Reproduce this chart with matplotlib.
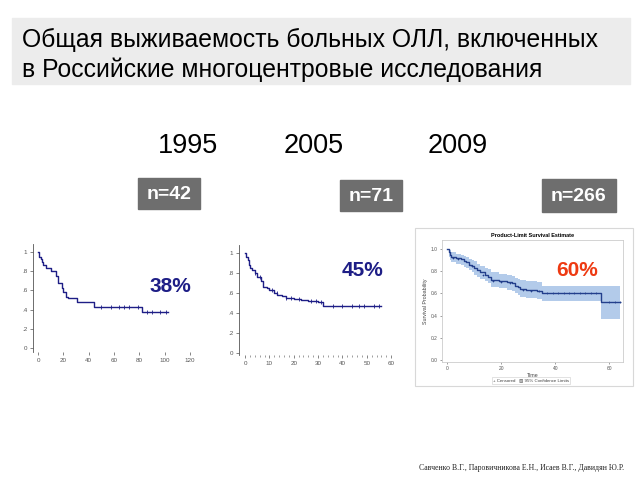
import matplotlib.pyplot as plt
from matplotlib.patches import Rectangle

plt.rcParams['font.family'] = ['Liberation Sans', 'DejaVu Sans']

# 1995, n=42
t1 = [0, 1, 2, 3, 4, 6, 10, 14, 16, 19, 20, 22, 24, 31, 44, 82, 103]
s1 = [1.0, 0.95, 0.92, 0.89, 0.86, 0.83, 0.80, 0.75, 0.68, 0.62, 0.58, 0.53, 0.52, 0.48, 0.43, 0.37, 0.37]
c1_t = [50, 58, 64, 68, 72, 79, 86, 90, 96, 101]
c1_s = [0.43, 0.43, 0.43, 0.43, 0.43, 0.43, 0.37, 0.37, 0.37, 0.37]

# 2005, n=71
t2 = [0, 0.5, 1, 1.5, 2, 3, 4, 5, 6.5, 7.5, 9, 10, 12, 13, 15, 17, 20, 23, 26, 30, 32, 56]
s2 = [1.0, 0.96, 0.93, 0.88, 0.85, 0.83, 0.80, 0.76, 0.72, 0.66, 0.65, 0.63, 0.60, 0.58,
      0.57, 0.55, 0.54, 0.53, 0.52, 0.51, 0.47, 0.47]
c2_t = [4, 6, 11, 13, 17, 19, 22, 27, 29, 31, 36, 40, 44, 47, 49, 53, 55]
c2_s = [0.80, 0.76, 0.63, 0.60, 0.55, 0.55, 0.54, 0.52, 0.52, 0.51, 0.47, 0.47, 0.47, 0.47, 0.47, 0.47, 0.47]

# 2009, n=266
t3 = [0, 0.5, 1, 1.5, 3, 5, 6, 7, 8, 9, 10, 11, 12, 14, 15, 16, 19, 22, 24, 25, 26, 27, 29, 33, 35, 57, 64]
s3 = [1.0, 0.97, 0.95, 0.93, 0.92, 0.91, 0.89, 0.88, 0.86, 0.85, 0.83, 0.81, 0.79, 0.77,
      0.75, 0.72, 0.71, 0.70, 0.69, 0.67, 0.66, 0.64, 0.635, 0.625, 0.605, 0.525, 0.525]
hi3 = [1.0, 1.0, 0.99, 0.97, 0.96, 0.95, 0.94, 0.93, 0.91, 0.90, 0.89, 0.87, 0.85, 0.83,
       0.82, 0.79, 0.78, 0.77, 0.76, 0.74, 0.73, 0.72, 0.71, 0.70, 0.67, 0.665, 0.665]
lo3 = [1.0, 0.93, 0.90, 0.88, 0.87, 0.86, 0.84, 0.83, 0.81, 0.79, 0.77, 0.75, 0.73, 0.71,
       0.69, 0.66, 0.65, 0.63, 0.62, 0.60, 0.59, 0.57, 0.56, 0.55, 0.535, 0.37, 0.37]
c3_t = [2, 4, 9, 13, 17, 20, 23, 28, 31, 34, 37, 39, 41, 43, 45, 47, 49, 51, 53, 55, 60, 62, 64]
c3_s = [0.92, 0.91, 0.85, 0.77, 0.71, 0.70, 0.69, 0.635, 0.625, 0.625, 0.605, 0.605, 0.605, 0.605,
        0.605, 0.605, 0.605, 0.605, 0.605, 0.605, 0.525, 0.525, 0.525]

years = ['1995', '2005', '2009']
n_labels = ['n=42', 'n=71', 'n=266']
pct = ['38%', '45%', '60%']

W, H = 640, 480
fig = plt.figure(figsize=(6.4, 4.8), dpi=100)


def fx(px):
    return px / W


def fy(py):
    return 1 - py / H


def add_ax(x0, y0, x1, y1):
    return fig.add_axes([fx(x0), fy(y1), (x1 - x0) / W, (y1 - y0) / H])


# title box
fig.patches.append(Rectangle((fx(12), fy(84)), (630 - 12) / W, (84 - 18) / H,
                             transform=fig.transFigure, color='#ececec', zorder=-2))
fig.text(fx(22), fy(40), 'Общая выживаемость больных ОЛЛ, включенных', fontsize=17.8,
         va='center', ha='left')
fig.text(fx(22), fy(70), 'в Российские многоцентровые исследования', fontsize=17.8,
         va='center', ha='left')

for x, yr in zip([187.5, 314, 457.5], years):
    fig.text(fx(x), fy(146), yr, fontsize=19.5, ha='center', va='center')

boxes = [(138, 178, 200, 209), (340, 180, 402, 211), (542, 179, 616, 212)]
for (x0, y0, x1, y1), lab in zip(boxes, n_labels):
    fig.patches.append(Rectangle((fx(x0), fy(y1)), (x1 - x0) / W, (y1 - y0) / H,
                                 transform=fig.transFigure, color='#6e6e6e', zorder=-1))
    fig.text(fx((x0 + x1) / 2), fy((y0 + y1) / 2 + 1), lab, fontsize=14, weight='bold',
             color='white', ha='center', va='center')

navy = '#1e1e86'
tick_kw = dict(labelsize=4.5, colors='#555555', length=2, width=0.5, pad=2)

# plot 1
ax1 = add_ax(33, 244, 195, 352)
ax1.step(t1, s1, where='post', color=navy, lw=1)
ax1.plot(c1_t, c1_s, '|', color=navy, ms=3, mew=0.6)
ax1.set_xlim(-4, 124)
ax1.set_ylim(-0.04, 1.08)
ax1.set_xticks([0, 20, 40, 60, 80, 100, 120])
ax1.set_yticks([0, 0.2, 0.4, 0.6, 0.8, 1])
ax1.set_yticklabels(['0', '.2', '.4', '.6', '.8', '1'])
ax1.tick_params(**tick_kw)
for s in ['top', 'right', 'bottom']:
    ax1.spines[s].set_visible(False)
ax1.spines['left'].set_color('#555555')
ax1.spines['left'].set_linewidth(0.6)
ax1.patch.set_alpha(0)

# plot 2
ax2 = add_ax(239, 245, 395, 355)
ax2.step(t2, s2, where='post', color=navy, lw=1)
ax2.plot(c2_t, c2_s, '|', color=navy, ms=3, mew=0.6)
ax2.set_xlim(-2.5, 61.6)
ax2.set_ylim(-0.023, 1.077)
ax2.set_xticks([0, 10, 20, 30, 40, 50, 60])
ax2.set_xticks(range(0, 61, 2), minor=True)
ax2.set_yticks([0, 0.2, 0.4, 0.6, 0.8, 1])
ax2.set_yticklabels(['0', '.2', '.4', '.6', '.8', '1'])
ax2.tick_params(**tick_kw)
ax2.tick_params(which='minor', length=1.5, width=0.5, colors='#777777')
for s in ['top', 'right', 'bottom']:
    ax2.spines[s].set_visible(False)
ax2.spines['left'].set_color('#555555')
ax2.spines['left'].set_linewidth(0.6)
ax2.patch.set_alpha(0)

# plot 3 frame
fig.patches.append(Rectangle((fx(415), fy(386)), (633 - 415) / W, (386 - 228) / H,
                             transform=fig.transFigure, facecolor='white',
                             edgecolor='#d8d8d8', lw=0.8, zorder=-1))
ax3 = add_ax(442, 240, 623, 362)
ax3.fill_between(t3, lo3, hi3, step='post', color='#b3cbea', lw=0)
ax3.step(t3, s3, where='post', color='#233f8c', lw=1)
ax3.plot(c3_t, c3_s, '+', color='#233f8c', ms=2, mew=0.5)
ax3.set_xlim(-2, 65)
ax3.set_ylim(-0.02, 1.083)
ax3.set_xticks([0, 20, 40, 60])
ax3.set_yticks([0, 0.2, 0.4, 0.6, 0.8, 1.0])
ax3.set_yticklabels(['0.0', '0.2', '0.4', '0.6', '0.8', '1.0'])
ax3.tick_params(labelsize=3.5, colors='#555555', length=1.5, width=0.4, pad=1.5)
for s in ax3.spines.values():
    s.set_color('#cccccc')
    s.set_linewidth(0.6)
ax3.set_title('Product-Limit Survival Estimate', fontsize=4, weight='bold', pad=2)
ax3.set_xlabel('Time', fontsize=3.8, labelpad=1, color='#444444')
ax3.set_ylabel('Survival Probability', fontsize=3.8, labelpad=2, color='#444444')
fig.text(fx(531), fy(380.5), '+ Censored   \u25a8 95% Confidence Limits', fontsize=3.2,
         ha='center', va='center', color='#444444',
         bbox=dict(boxstyle='square,pad=0.25', fc='white', ec='#cccccc', lw=0.4))

# percentages
fig.text(fx(170), fy(286), pct[0], fontsize=15, weight='bold', color=navy,
         ha='center', va='center')
fig.text(fx(362), fy(271), pct[1], fontsize=15, weight='bold', color=navy,
         ha='center', va='center')
fig.text(fx(577), fy(270), pct[2], fontsize=15, weight='bold', color='#ee3a12',
         ha='center', va='center')

fig.text(fx(624), fy(468), 'Савченко В.Г., Паровичникова Е.Н., Исаев В.Г., Давидян Ю.Р.',
         fontsize=5.6, family=['Liberation Serif', 'DejaVu Serif'], ha='right', va='center',
         color='#222222')

fig.savefig('out.png', dpi=100)
